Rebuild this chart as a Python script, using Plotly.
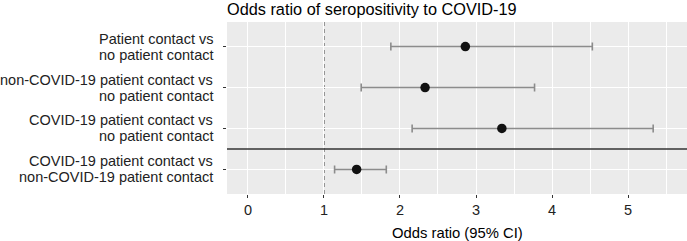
import plotly.graph_objects as go

categories = [
    ["Patient contact vs", "no patient contact"],
    ["non-COVID-19 patient contact vs", "no patient contact"],
    ["COVID-19 patient contact vs", "no patient contact"],
    ["COVID-19 patient contact vs", "non-COVID-19 patient contact"],
]
odds_ratio = [2.86, 2.33, 3.34, 1.43]
ci_low = [1.88, 1.49, 2.16, 1.14]
ci_high = [4.53, 3.77, 5.33, 1.82]
x_ticks = [0, 1, 2, 3, 4, 5]

ypos = list(range(1, len(categories) + 1))

fig = go.Figure()
fig.add_trace(go.Scatter(
    x=odds_ratio, y=ypos, mode="markers",
    marker=dict(color="#111111", size=9.5),
    error_x=dict(type="data", symmetric=False,
                 array=[h - o for h, o in zip(ci_high, odds_ratio)],
                 arrayminus=[o - l for o, l in zip(odds_ratio, ci_low)],
                 color="#8c8c8c", thickness=1.6, width=4),
    showlegend=False, hoverinfo="skip",
))

fig.add_vline(x=1, line=dict(color="#6e6e6e", dash="4px,3px", width=1.5), layer="below")
fig.add_hline(y=3.5, line=dict(color="#333333", width=1.5))

font = "Liberation Sans, Arial, sans-serif"
for yv, lines in zip(ypos, categories):
    for i, txt in enumerate(lines):
        fig.add_annotation(
            x=0, xref="paper", xanchor="right", xshift=-12,
            y=yv, yref="y", yanchor="middle", yshift=8 - 16 * i,
            text=txt, showarrow=False,
            font=dict(family=font, size=14.5, color="#222222"),
        )

fig.add_annotation(
    x=0, xref="paper", xanchor="left", xshift=-2, y=1, yref="paper", yanchor="bottom",
    yshift=2, text="Odds ratio of seropositivity to COVID-19", showarrow=False,
    font=dict(family=font, size=16.3, color="#000000"),
)

fig.add_annotation(
    x=0.5, xref="paper", xanchor="center", y=0, yref="paper", yanchor="middle",
    yshift=-39, text="Odds ratio (95% CI)", showarrow=False,
    font=dict(family=font, size=14.8, color="#000000"),
)

fig.update_layout(
    width=687, height=241,
    margin=dict(l=227, r=0, t=22, b=47, autoexpand=False),
    plot_bgcolor="#EBEBEB", paper_bgcolor="#FFFFFF",
    font=dict(family=font, size=14.5, color="#222222"),
    xaxis=dict(range=[-0.275, 5.775], tickvals=x_ticks, ticks="outside",
               ticklen=3, tickcolor="#333333", tickwidth=1, automargin=False,
               showgrid=True, gridcolor="#FFFFFF", gridwidth=1.2,
               minor=dict(dtick=0.5, tick0=0, showgrid=True, gridcolor="#FFFFFF", gridwidth=0.6),
               zeroline=False, showline=False,
               tickfont=dict(family=font, size=14.5, color="#222222")),
    yaxis=dict(range=[4.6, 0.4], tickvals=ypos, ticktext=[""] * len(ypos),
               ticks="outside", ticklen=3, tickcolor="#333333", tickwidth=1,
               automargin=False,
               showgrid=True, gridcolor="#FFFFFF", gridwidth=1.2,
               zeroline=False, showline=False, showticklabels=True),
)

fig.write_html("out.html", config={"displayModeBar": False},
               post_script="document.body.style.margin='0';")
